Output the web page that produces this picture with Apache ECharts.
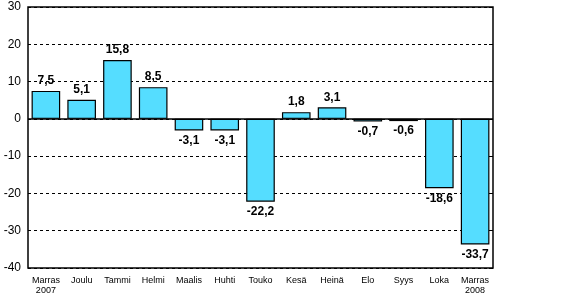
<!DOCTYPE html>
<html>
<head>
<meta charset="utf-8">
<script src="https://cdn.jsdelivr.net/npm/echarts@6/dist/echarts.min.js"></script>
<style>
  html, body {margin: 0; padding: 0; background: #fff;}
  #chart {width: 561px; height: 296px;}
</style>
</head>
<body>
<div id="chart"></div>
<script>
const categories = ['Marras\n2007', 'Joulu', 'Tammi', 'Helmi', 'Maalis', 'Huhti', 'Touko',
    'Kesä', 'Heinä', 'Elo', 'Syys', 'Loka', 'Marras\n2008'];
const values = [7.5, 5.1, 15.8, 8.5, -3.1, -3.1, -22.2, 1.8, 3.1, -0.7, -0.6, -18.6, -33.7];
const yMin = -40, yMax = 30, yStep = 10;

const font = 'Liberation Sans, Arial, sans-serif';
const chart = echarts.init(document.getElementById('chart'));
chart.setOption({
    animation: false,
    textStyle: {fontFamily: font},
    grid: {left: 28, top: 7, right: 68, bottom: 28, show: true, borderColor: '#000', borderWidth: 1.5},
    xAxis: {
        type: 'category',
        data: categories,
        axisLine: {show: false},
        axisTick: {show: false},
        axisLabel: {color: '#000', fontSize: 9, margin: 8, lineHeight: 10, interval: 0}
    },
    yAxis: [{
        type: 'value',
        min: yMin, max: yMax, interval: yStep,
        axisLine: {show: false},
        axisTick: {show: false},
        axisLabel: {color: '#000', fontSize: 12, margin: 7},
        splitLine: {lineStyle: {color: '#000', type: [3, 3], width: 1}}
    }, {
        type: 'value',
        position: 'right',
        min: yMin, max: yMax, interval: yStep,
        axisLine: {show: false},
        axisTick: {show: true, inside: true, length: 4, lineStyle: {color: '#000'}},
        axisLabel: {show: false},
        splitLine: {show: false}
    }],
    series: [{
        type: 'bar',
        data: values,
        barWidth: '80%',
        itemStyle: {color: '#55DDFF', borderColor: '#000', borderWidth: 1.2},
        label: {
            show: true,
            position: 'outside',
            color: '#000',
            fontWeight: 'bold',
            fontSize: 12,
            distance: 4,
            formatter: p => String(p.value).replace('.', ',')
        },
        markLine: {
            silent: true,
            symbol: 'none',
            label: {show: false},
            lineStyle: {color: '#000', type: 'solid', width: 1.5},
            data: [{yAxis: 0}]
        }
    }]
});
</script>
</body>
</html>
